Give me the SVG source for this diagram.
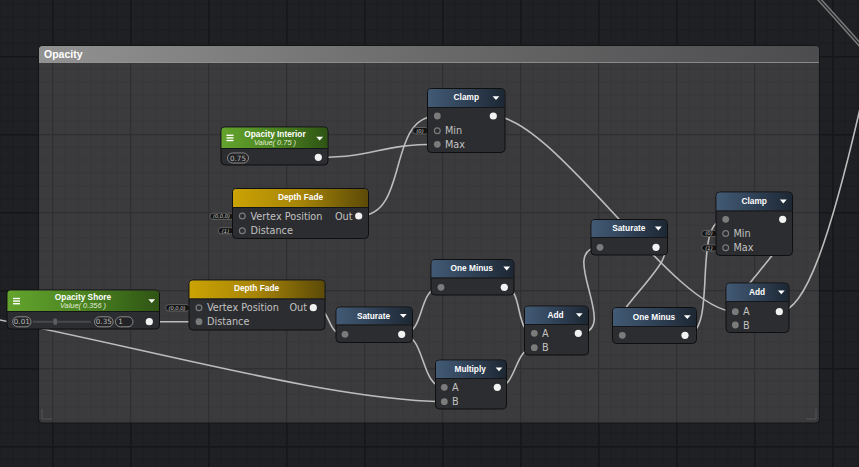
<svg xmlns="http://www.w3.org/2000/svg" width="859" height="467" viewBox="0 0 859 467">
<defs>
<pattern id="gridOut" x="52" y="56" width="78" height="78" patternUnits="userSpaceOnUse">
<rect width="78" height="78" fill="#1f2023"/>
<path d="M13,0V78M26,0V78M39,0V78M52,0V78M65,0V78M0,13H78M0,26H78M0,39H78M0,52H78M0,65H78" stroke="#1b1c1f" stroke-width="1"/>
<rect x="0" y="0" width="1.6" height="78" fill="#151618"/>
<rect x="0" y="0" width="78" height="1.6" fill="#151618"/>
</pattern>
<pattern id="gridIn" x="52" y="56" width="78" height="78" patternUnits="userSpaceOnUse">
<rect width="78" height="78" fill="#3b3b3e"/>
<path d="M13,0V78M26,0V78M39,0V78M52,0V78M65,0V78M0,13H78M0,26H78M0,39H78M0,52H78M0,65H78" stroke="#363639" stroke-width="1"/>
<rect x="0" y="0" width="1.4" height="78" fill="#303033"/>
<rect x="0" y="0" width="78" height="1.4" fill="#303033"/>
</pattern>
<linearGradient id="gFrame" x1="0" y1="0" x2="1" y2="0">
<stop offset="0" stop-color="#929292"/>
<stop offset="0.5" stop-color="#6a6a6b"/>
<stop offset="1" stop-color="#4c4c4e"/>
</linearGradient>
<linearGradient id="gBlue" x1="0" y1="0" x2="1" y2="0">
<stop offset="0" stop-color="#425a75"/>
<stop offset="0.55" stop-color="#2e3f53"/>
<stop offset="1" stop-color="#1d2733"/>
</linearGradient>
<linearGradient id="gGold" x1="0" y1="0" x2="1" y2="0">
<stop offset="0" stop-color="#cba304"/>
<stop offset="0.5" stop-color="#a68407"/>
<stop offset="1" stop-color="#5c4a08"/>
</linearGradient>
<linearGradient id="gGreen" x1="0" y1="0" x2="1" y2="0">
<stop offset="0" stop-color="#64a42d"/>
<stop offset="0.5" stop-color="#4b8421"/>
<stop offset="1" stop-color="#2f5414"/>
</linearGradient>
<style>
.body{fill:#2c2d30;stroke:#0f0f10;stroke-width:1}
.hb{fill:url(#gBlue)}
.hg{fill:url(#gGold)}
.hgr{fill:url(#gGreen)}
.hsep{stroke:#141619;stroke-width:1}
.title{font-family:"Liberation Sans",Arial,sans-serif;font-weight:bold;font-size:8.3px;fill:#ffffff;text-anchor:middle}
.sub{font-family:"Liberation Sans",Arial,sans-serif;font-style:italic;font-size:7.4px;fill:#e2ecd6;text-anchor:middle}
.lbl{font-family:"DejaVu Sans",sans-serif;font-size:9.7px;fill:#c2c2c2}
.lblr{font-family:"DejaVu Sans",sans-serif;font-size:9.7px;fill:#c2c2c2;text-anchor:end}
.pin{fill:#7b7b7b}
.pinh{fill:none;stroke:#7b7b7b;stroke-width:1.2}
.out{fill:#f2f2f2}
.tri{fill:#ffffff}
.ham{fill:#ffffff}
.wire{fill:none;stroke:#bcbcbc;stroke-width:1.6}
.pill{fill:#141414;stroke:#6e6e6e;stroke-width:0.8}
.ptxt{font-family:"DejaVu Sans",sans-serif;font-style:italic;font-size:5.2px;fill:#d0d0d0;text-anchor:middle}
.vpill{fill:#232326;stroke:#8a8a8a;stroke-width:1}
.vtxt{font-family:"DejaVu Sans",sans-serif;font-size:7.2px;fill:#b8b8b8;text-anchor:middle}
.ftitle{font-family:"Liberation Sans",Arial,sans-serif;font-weight:bold;font-size:10.5px;fill:#ffffff}
</style>
</defs>

<rect x="0" y="0" width="859" height="467" fill="url(#gridOut)"/>

<g id="frame-opacity">
<rect x="38.5" y="45.5" width="781" height="377.5" rx="4" fill="url(#gridIn)" stroke="#141415" stroke-width="1"/>
<path d="M39,62.5 V49.5 Q39,46 42.5,46 H815.5 Q819,46 819,49.5 V62.5 Z" fill="url(#gFrame)"/>
<line x1="39" y1="62.5" x2="819" y2="62.5" stroke="#a5a5a5" stroke-width="1" opacity="0.7"/>
<text class="ftitle" x="44" y="58.3">Opacity</text>
<path d="M42,409 V419 H52" fill="none" stroke="#555558" stroke-width="1"/>
<path d="M816,409 V419 H806" fill="none" stroke="#555558" stroke-width="1"/>
</g>

<g id="connectors">
<path class="wire" d="M318.3,157.3 C378,157.3 377,144.3 437.3,144.3"/>
<path class="wire" d="M358.7,216 C410,216 386,116 437.3,116"/>
<path class="wire" d="M493.3,116 C553,116 675,311.7 735.3,311.7"/>
<path class="wire" d="M149.3,321.7 L199,321.7"/>
<path class="wire" d="M-10,318 C150,349 330,400 444.3,401.7"/>
<path class="wire" d="M313.3,307.7 C333,307.7 325,334.3 345,334.3"/>
<path class="wire" d="M401.7,334.3 C426,334.3 417,287.3 441,287.3"/>
<path class="wire" d="M401.7,334.3 C426,334.3 420,387.3 444.3,387.3"/>
<path class="wire" d="M504.3,287.3 C524,287.3 514,333.3 534.3,333.3"/>
<path class="wire" d="M497.3,387.3 C517,387.3 514,347.7 534.3,347.7"/>
<path class="wire" d="M578.3,333.3 C623,333.3 555,247.3 600,247.3"/>
<path class="wire" d="M656,247.3 C696,247.3 582,335.3 622.3,335.3"/>
<path class="wire" d="M685,335.3 C720,335.3 690,219.3 725.7,219.3"/>
<path class="wire" d="M782.7,219.3 C822,219.3 695,325 735.3,325"/>
<path class="wire" d="M779.3,311.7 C805,311.7 830,240 862,100"/>
<path d="M817,-3 C830,11 845,28 863,48" fill="none" stroke="#7a7a7a" stroke-width="4.2"/>
<path d="M817,-3 C830,11 845,28 863,48" fill="none" stroke="#2a2b2d" stroke-width="1.4"/>
</g>

<g id="opacity-interior">
<rect class="body" x="221" y="127" width="107" height="38" rx="4"/>
<path class="hgr" d="M221.5,148 V130.5 Q221.5,127.5 224.5,127.5 H324.5 Q327.5,127.5 327.5,130.5 V148 Z"/>
<line class="hsep" x1="221.5" y1="148.5" x2="327.5" y2="148.5"/>
<rect class="ham" x="226.5" y="134.6" width="7" height="1.4"/>
<rect class="ham" x="226.5" y="137.2" width="7" height="1.4"/>
<rect class="ham" x="226.5" y="139.8" width="7" height="1.4"/>
<text class="title" x="275" y="137">Opacity Interior</text>
<text class="sub" x="275" y="145.4">Value( 0.75 )</text>
<polygon class="tri" points="316.3,136.8 323.1,136.8 319.7,140.6"/>
<rect class="vpill" x="227.5" y="153" width="21" height="10" rx="5"/>
<text class="vtxt" x="238" y="160.6">0.75</text>
<circle class="out" cx="318.3" cy="157.3" r="3.6"/>
</g>

<g id="clamp-1">
<rect class="pill" x="412.7" y="127.5" width="16" height="6.5" rx="3"/>
<text class="ptxt" x="420" y="132.6">(0)</text>
<rect class="body" x="427.5" y="88.5" width="77.5" height="64" rx="4"/>
<path class="hb" d="M428,107 V92 Q428,89 431,89 H501.5 Q504.5,89 504.5,92 V107 Z"/>
<line class="hsep" x1="428" y1="107.5" x2="504.5" y2="107.5"/>
<text class="title" x="466.3" y="100.4">Clamp</text>
<polygon class="tri" points="492.6,96.3 499.4,96.3 496,100.1"/>
<circle class="pin" cx="437.3" cy="116" r="3.4"/>
<circle class="pinh" cx="437.3" cy="130.8" r="2.9"/>
<circle class="pin" cx="437.3" cy="144.3" r="3.4"/>
<text class="lbl" x="445" y="134.3">Min</text>
<text class="lbl" x="445" y="147.8">Max</text>
<circle class="out" cx="493.3" cy="116" r="3.6"/>
</g>

<g id="depth-fade-1">
<rect class="pill" x="210" y="213.2" width="24" height="6.2" rx="3"/>
<text class="ptxt" x="221.5" y="218.2">(0,0,0)</text>
<rect class="pill" x="218.3" y="227.6" width="15.5" height="6.2" rx="3"/>
<text class="ptxt" x="225.5" y="232.6">(1)</text>
<rect class="body" x="232.5" y="188.5" width="136" height="50" rx="4"/>
<path class="hg" d="M233,207 V192 Q233,189 236,189 H365 Q368,189 368,192 V207 Z"/>
<line class="hsep" x1="233" y1="207.5" x2="368" y2="207.5"/>
<text class="title" x="300.5" y="200.3">Depth Fade</text>
<circle class="pinh" cx="242.3" cy="216" r="2.9"/>
<circle class="pinh" cx="242.3" cy="230.7" r="2.9"/>
<text class="lbl" x="250.5" y="219.5">Vertex Position</text>
<text class="lbl" x="250.5" y="234.2">Distance</text>
<text class="lblr" x="352.5" y="219.5">Out</text>
<circle class="out" cx="358.7" cy="216" r="3.6"/>
</g>

<g id="opacity-shore">
<rect class="body" x="7" y="290" width="152.5" height="39" rx="4"/>
<path class="hgr" d="M7.5,311 V293.5 Q7.5,290.5 10.5,290.5 H156 Q159,290.5 159,293.5 V311 Z"/>
<line class="hsep" x1="7.5" y1="311.5" x2="159" y2="311.5"/>
<rect class="ham" x="13" y="297.8" width="7" height="1.4"/>
<rect class="ham" x="13" y="300.4" width="7" height="1.4"/>
<rect class="ham" x="13" y="303" width="7" height="1.4"/>
<text class="title" x="83" y="300">Opacity Shore</text>
<text class="sub" x="83" y="308">Value( 0.356 )</text>
<polygon class="tri" points="148.3,299.2 155.1,299.2 151.7,303"/>
<rect class="vpill" x="12.7" y="316.8" width="18.3" height="10" rx="5"/>
<text class="vtxt" x="21.8" y="324.4">0.01</text>
<rect x="33" y="320.8" width="58" height="2" fill="#48484b"/>
<rect x="53.4" y="318.4" width="3.6" height="6.4" rx="1.2" fill="#5e5e61"/>
<rect class="vpill" x="94.5" y="316.8" width="18.6" height="10" rx="5"/>
<text class="vtxt" x="103.8" y="324.4">0.35</text>
<rect class="vpill" x="115.5" y="316.8" width="17.5" height="10" rx="5"/>
<text class="vtxt" x="120.5" y="324.4">1</text>
<circle class="out" cx="149.3" cy="321.7" r="3.6"/>
</g>

<g id="depth-fade-2">
<rect class="pill" x="165.7" y="304.6" width="24" height="6.4" rx="3"/>
<text class="ptxt" x="177" y="309.7">(0,0,0)</text>
<rect class="body" x="189" y="280" width="136" height="50" rx="4"/>
<path class="hg" d="M189.5,298.5 V283.5 Q189.5,280.5 192.5,280.5 H321.5 Q324.5,280.5 324.5,283.5 V298.5 Z"/>
<line class="hsep" x1="189.5" y1="299" x2="324.5" y2="299"/>
<text class="title" x="256.5" y="291.3">Depth Fade</text>
<circle class="pinh" cx="199" cy="307.7" r="2.9"/>
<circle class="pin" cx="199" cy="321.7" r="3.4"/>
<text class="lbl" x="207" y="311.2">Vertex Position</text>
<text class="lbl" x="207" y="325.2">Distance</text>
<text class="lblr" x="307" y="311.2">Out</text>
<circle class="out" cx="313.3" cy="307.7" r="3.6"/>
</g>

<g id="saturate-1">
<rect class="body" x="336" y="307" width="76.5" height="35.5" rx="4"/>
<path class="hb" d="M336.5,324.5 V310.5 Q336.5,307.5 339.5,307.5 H409 Q412,307.5 412,310.5 V324.5 Z"/>
<line class="hsep" x1="336.5" y1="325" x2="412" y2="325"/>
<text class="title" x="373.5" y="318.6">Saturate</text>
<polygon class="tri" points="399.9,314 406.7,314 403.3,317.8"/>
<circle class="pin" cx="345" cy="334.3" r="3.4"/>
<circle class="out" cx="401.7" cy="334.3" r="3.6"/>
</g>

<g id="one-minus-1">
<rect class="body" x="431" y="259.5" width="83" height="35.5" rx="4"/>
<path class="hb" d="M431.5,277.5 V263 Q431.5,260 434.5,260 H510.5 Q513.5,260 513.5,263 V277.5 Z"/>
<line class="hsep" x1="431.5" y1="278" x2="513.5" y2="278"/>
<text class="title" x="471.8" y="271.4">One Minus</text>
<polygon class="tri" points="503.3,266.6 510.1,266.6 506.7,270.4"/>
<circle class="pin" cx="441" cy="287.3" r="3.4"/>
<circle class="out" cx="504.3" cy="287.3" r="3.6"/>
</g>

<g id="multiply">
<rect class="body" x="435.5" y="360" width="71" height="49" rx="4"/>
<path class="hb" d="M436,378 V363.5 Q436,360.5 439,360.5 H503 Q506,360.5 506,363.5 V378 Z"/>
<line class="hsep" x1="436" y1="378.5" x2="506" y2="378.5"/>
<text class="title" x="470.2" y="372.2">Multiply</text>
<polygon class="tri" points="495.6,367.4 502.4,367.4 499,371.2"/>
<circle class="pin" cx="444.3" cy="387.3" r="3.4"/>
<circle class="pin" cx="444.3" cy="401.7" r="3.4"/>
<text class="lbl" x="452" y="390.8">A</text>
<text class="lbl" x="452" y="405.2">B</text>
<circle class="out" cx="497.3" cy="387.3" r="3.6"/>
</g>

<g id="add-1">
<rect class="body" x="524.5" y="306" width="64" height="49" rx="4"/>
<path class="hb" d="M525,324 V309.5 Q525,306.5 528,306.5 H585 Q588,306.5 588,309.5 V324 Z"/>
<line class="hsep" x1="525" y1="324.5" x2="588" y2="324.5"/>
<text class="title" x="555.5" y="317.6">Add</text>
<polygon class="tri" points="575.9,313.2 582.7,313.2 579.3,317"/>
<circle class="pin" cx="534.3" cy="333.3" r="3.4"/>
<circle class="pin" cx="534.3" cy="347.7" r="3.4"/>
<text class="lbl" x="542" y="336.8">A</text>
<text class="lbl" x="542" y="351.2">B</text>
<circle class="out" cx="578.3" cy="333.3" r="3.6"/>
</g>

<g id="saturate-2">
<rect class="body" x="591" y="219.5" width="76.5" height="35.5" rx="4"/>
<path class="hb" d="M591.5,237 V223 Q591.5,220 594.5,220 H664 Q667,220 667,223 V237 Z"/>
<line class="hsep" x1="591.5" y1="237.5" x2="667" y2="237.5"/>
<text class="title" x="628.8" y="231.2">Saturate</text>
<polygon class="tri" points="654.9,226.6 661.7,226.6 658.3,230.4"/>
<circle class="pin" cx="600" cy="247.3" r="3.4"/>
<circle class="out" cx="656" cy="247.3" r="3.6"/>
</g>

<g id="one-minus-2">
<rect class="body" x="612.5" y="307.5" width="84" height="36" rx="4"/>
<path class="hb" d="M613,326 V311 Q613,308 616,308 H693 Q696,308 696,311 V326 Z"/>
<line class="hsep" x1="613" y1="326.5" x2="696" y2="326.5"/>
<text class="title" x="654" y="319.8">One Minus</text>
<polygon class="tri" points="683.9,315.2 690.7,315.2 687.3,319"/>
<circle class="pin" cx="622.3" cy="335.3" r="3.4"/>
<circle class="out" cx="685" cy="335.3" r="3.6"/>
</g>

<g id="clamp-2">
<rect class="pill" x="701.7" y="230.4" width="15.5" height="6.2" rx="3"/>
<text class="ptxt" x="709" y="235.4">(0)</text>
<rect class="pill" x="701.7" y="244.8" width="15.5" height="6.2" rx="3"/>
<text class="ptxt" x="709" y="249.8">(1)</text>
<rect class="body" x="716" y="192" width="76.5" height="63.5" rx="4"/>
<path class="hb" d="M716.5,210.5 V195.5 Q716.5,192.5 719.5,192.5 H789 Q792,192.5 792,195.5 V210.5 Z"/>
<line class="hsep" x1="716.5" y1="211" x2="792" y2="211"/>
<text class="title" x="754.2" y="204">Clamp</text>
<polygon class="tri" points="779.9,199.6 786.7,199.6 783.3,203.4"/>
<circle class="pin" cx="725.7" cy="219.3" r="3.4"/>
<circle class="pinh" cx="725.7" cy="233.5" r="2.9"/>
<circle class="pinh" cx="725.7" cy="247.8" r="2.9"/>
<text class="lbl" x="733.5" y="237">Min</text>
<text class="lbl" x="733.5" y="251.3">Max</text>
<circle class="out" cx="782.7" cy="219.3" r="3.6"/>
</g>

<g id="add-2">
<rect class="body" x="726" y="283" width="63" height="49.5" rx="4"/>
<path class="hb" d="M726.5,301 V286.5 Q726.5,283.5 729.5,283.5 H785.5 Q788.5,283.5 788.5,286.5 V301 Z"/>
<line class="hsep" x1="726.5" y1="301.5" x2="788.5" y2="301.5"/>
<text class="title" x="757" y="295">Add</text>
<polygon class="tri" points="777.9,290.4 784.7,290.4 781.3,294.2"/>
<circle class="pin" cx="735.3" cy="311.7" r="3.4"/>
<circle class="pin" cx="735.3" cy="325" r="3.4"/>
<text class="lbl" x="743" y="315.2">A</text>
<text class="lbl" x="743" y="328.5">B</text>
<circle class="out" cx="779.3" cy="311.7" r="3.6"/>
</g>
</svg>
